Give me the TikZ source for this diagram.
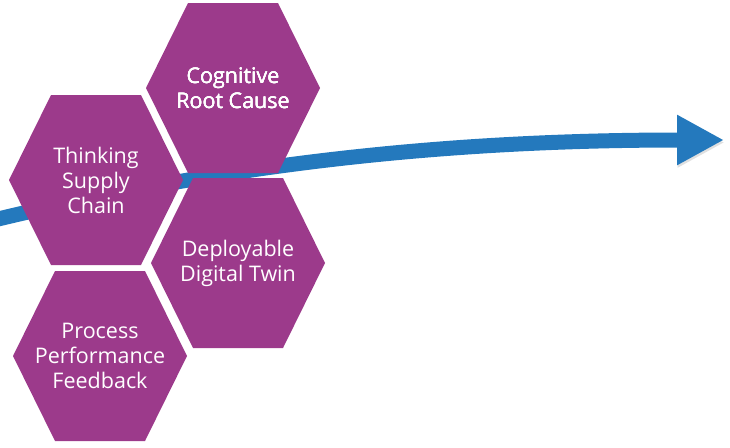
\documentclass[tikz,border=0pt]{standalone}
\usepackage{fontspec}
\setmainfont{Open Sans}
\usetikzlibrary{arrows.meta}
\definecolor{hexpurple}{RGB}{156,58,139}
\definecolor{trendblue}{RGB}{36,121,189}
\tikzset{hexa/.style={fill=hexpurple}}
\tikzset{hexlabel/.style={text=white,align=center,font=\fontsize{21.5}{25}\selectfont}}
\tikzset{
  trend/.style={
    trendblue, line width=15pt, -{Triangle[length=47pt,width=47pt]},
    preaction={draw=black, opacity=0.12, transform canvas={shift={(0.5pt,-2.5pt)}}}
  }
}
\newcommand{\hexagon}[1]{\fill[hexa] (#1) ++(-87,0) -- ++(42,-85) -- ++(90,0) -- ++(42,85) -- ++(-42,85) -- ++(-90,0) -- cycle;}

\begin{document}
\begin{tikzpicture}[x=1pt,y=-1pt]
  \useasboundingbox (0,0) rectangle (730,447);
  % hexagon centres
  \coordinate (cognitive) at (233,88);
  \coordinate (thinking) at (96,180);
  \coordinate (deployable) at (238,263);
  \coordinate (process) at (100,356);
  % trend arrow, behind the hexagons
  \coordinate (start) at (-6,220);
  \coordinate (tip) at (724,140);
  \draw[trend] (start) .. controls (230,163) and (450,140) .. (tip);
  % hexagons
  \foreach \c in {cognitive,thinking,deployable,process}
    \hexagon{\c}
  % labels
  \node[hexlabel] (cognitive label) at (cognitive) {Cognitive\\Root Cause};
  \node[hexlabel] (thinking label) at (thinking) {Thinking\\Supply\\Chain};
  \node[hexlabel] (deployable label) at (deployable) {Deployable\\Digital Twin};
  \node[hexlabel] (process label) at (process) {Process\\Performance\\Feedback};
\end{tikzpicture}
\end{document}
